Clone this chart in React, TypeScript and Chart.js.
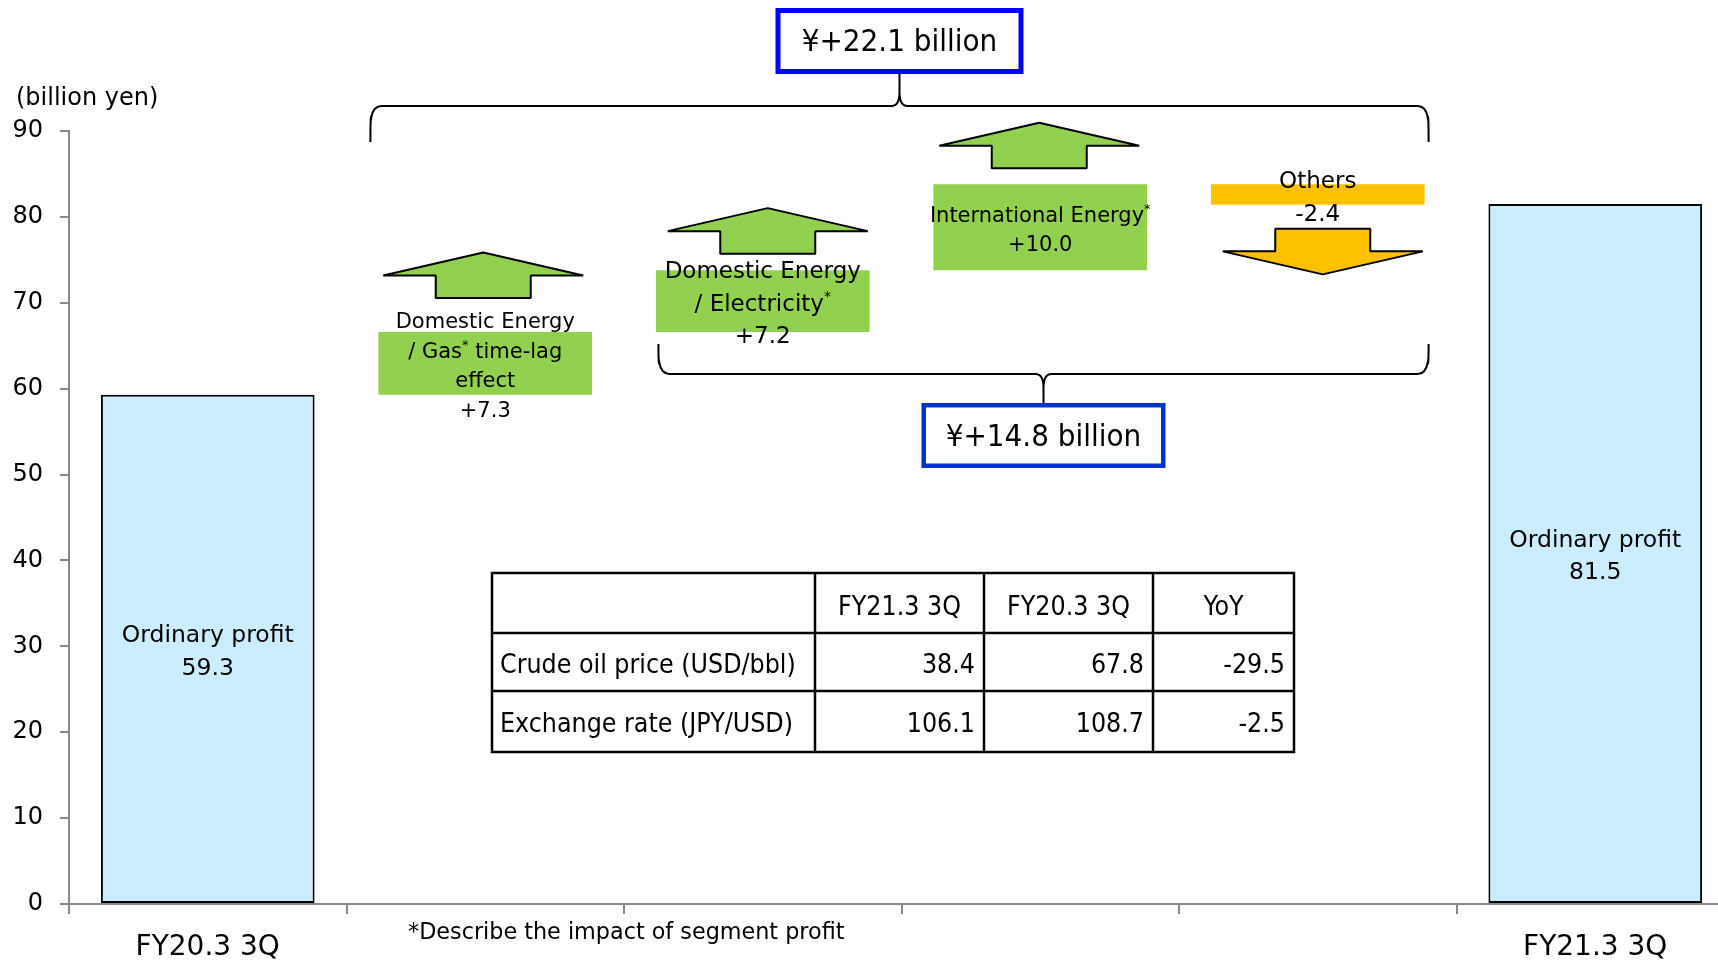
import React, { useEffect, useRef } from 'react';
import { Chart, registerables } from 'chart.js';

Chart.register(...registerables);

// ---------- data ----------
const categories = [
  'FY20.3 3Q',
  'Domestic Energy / Gas time-lag effect',
  'Domestic Energy / Electricity',
  'International Energy',
  'Others',
  'FY21.3 3Q',
];
const tickLabels = ['FY20.3 3Q', '', '', '', '', 'FY21.3 3Q'];
const yMin = 0;
const yMax = 90;
const yStep = 10;
const startProfit = 59.3;
const endProfit = 81.5;
const stepDeltas = [7.3, 7.2, 10.0, -2.4];
const stepLabelLines = [
  ['Domestic Energy', '/ Gas* time-lag', 'effect'],
  ['Domestic Energy', '/ Electricity*'],
  ['International Energy*'],
  ['Others'],
];
const profitLabel = 'Ordinary profit';
const totalChange = 22.1;
const segmentChange = 14.8;
const tableHeader = ['', 'FY21.3 3Q', 'FY20.3 3Q', 'YoY'];
const tableRowLabels = ['Crude oil price (USD/bbl)', 'Exchange rate (JPY/USD)'];
const tableFY21 = [38.4, 106.1];
const tableFY20 = [67.8, 108.7];
const tableYoY = [-29.5, -2.5];
const yAxisTitle = '(billion yen)';
const footnote = '*Describe the impact of segment profit';

// ---------- styles ----------
const SANS = "'DejaVu Sans', Verdana, sans-serif";
const COND = "'DejaVu Sans Condensed', 'DejaVu Sans', sans-serif";
const AXIS_COLOR = '#898989';
const barColors = ['#CCECFF', '#92D050', '#92D050', '#92D050', '#FFC000', '#CCECFF'];
const barBorderWidths = [2, 0, 0, 0, 0, 2];
const labelSizes = [23.5, 21, 23, 21, 23, 23.5];
const labelLineHeights = [32.5, 29.5, 32.5, 29, 33, 32.5];
const arrowGaps = [34, 16.5, 16, 24];
const arrowDx = [-2, 5, -1, 5];

function buildFloating(): [number, number][] {
  const out: [number, number][] = [[0, startProfit]];
  let cum = startProfit;
  stepDeltas.forEach((d) => {
    const next = Math.round((cum + d) * 10) / 10;
    out.push([Math.min(cum, next), Math.max(cum, next)]);
    cum = next;
  });
  out.push([0, endProfit]);
  return out;
}

const fmtSigned = (v: number) => (v > 0 ? '+' : '') + v.toFixed(1);

function drawRichLine(ctx: CanvasRenderingContext2D, text: string, cx: number, cy: number, size: number, family: string) {
  const parts = text.split('*');
  const segs: { t: string; sup: boolean }[] = [];
  parts.forEach((p, i) => {
    if (p) segs.push({ t: p, sup: false });
    if (i < parts.length - 1) segs.push({ t: '*', sup: true });
  });
  const mainFont = `${size}px ${family}`;
  const supFont = `${Math.round(size * 0.6)}px ${family}`;
  let total = 0;
  const widths = segs.map((s) => {
    ctx.font = s.sup ? supFont : mainFont;
    const w = ctx.measureText(s.t).width;
    total += w;
    return w;
  });
  let x = cx - total / 2;
  ctx.textAlign = 'left';
  ctx.textBaseline = 'middle';
  segs.forEach((s, i) => {
    ctx.font = s.sup ? supFont : mainFont;
    ctx.fillText(s.t, x, s.sup ? cy - size * 0.32 : cy);
    x += widths[i];
  });
}

function drawArrow(ctx: CanvasRenderingContext2D, cx: number, yStart: number, up: boolean) {
  const headHalf = 100;
  const shaftHalf = 47.5;
  const shaftLen = 22.5;
  const headLen = 23;
  const d = up ? -1 : 1;
  const yHeadBase = yStart + d * shaftLen;
  const yTip = yHeadBase + d * headLen;
  ctx.beginPath();
  ctx.moveTo(cx, yTip);
  ctx.lineTo(cx + headHalf, yHeadBase);
  ctx.lineTo(cx + shaftHalf, yHeadBase);
  ctx.lineTo(cx + shaftHalf, yStart);
  ctx.lineTo(cx - shaftHalf, yStart);
  ctx.lineTo(cx - shaftHalf, yHeadBase);
  ctx.lineTo(cx - headHalf, yHeadBase);
  ctx.closePath();
  ctx.fill();
  ctx.stroke();
}

function drawBrace(ctx: CanvasRenderingContext2D, x0: number, x1: number, yLine: number, yTip: number, yCusp: number) {
  const r = 11;
  const cr = 8;
  const cx = (x0 + x1) / 2;
  const d = Math.sign(yTip - yLine);
  ctx.beginPath();
  ctx.moveTo(x0, yTip);
  ctx.quadraticCurveTo(x0, yLine + d * r * 0.6, x0 + 1, yLine + d * r);
  ctx.quadraticCurveTo(x0 + 3, yLine, x0 + r, yLine);
  ctx.lineTo(cx - cr, yLine);
  ctx.quadraticCurveTo(cx, yLine, cx, yLine - d * 14);
  ctx.lineTo(cx, yCusp);
  ctx.moveTo(cx, yLine - d * 14);
  ctx.quadraticCurveTo(cx, yLine, cx + cr, yLine);
  ctx.lineTo(x1 - r, yLine);
  ctx.quadraticCurveTo(x1 - 3, yLine, x1 - 1, yLine + d * r);
  ctx.quadraticCurveTo(x1, yLine + d * r * 0.6, x1, yTip);
  ctx.stroke();
}

function drawBox(ctx: CanvasRenderingContext2D, cx: number, top: number, w: number, h: number, text: string, color: string, lw: number) {
  const left = cx - w / 2;
  ctx.fillStyle = '#fff';
  ctx.fillRect(left, top, w, h);
  ctx.strokeStyle = color;
  ctx.lineWidth = lw;
  ctx.strokeRect(left + lw / 2, top + lw / 2, w - lw, h - lw);
  ctx.fillStyle = '#000';
  ctx.font = `31px ${COND}`;
  ctx.textAlign = 'center';
  ctx.textBaseline = 'middle';
  ctx.fillText(text, cx, top + h / 2 + 2);
}

const annotationPlugin = {
  id: 'waterfallAnnotations',
  afterDatasetsDraw(chart: any) {
    const ctx: CanvasRenderingContext2D = chart.ctx;
    const ca = chart.chartArea;
    const bars = chart.getDatasetMeta(0).data.map((b: any) => b.getProps(['x', 'y', 'base', 'width'], true));
    ctx.save();

    // bar labels
    const allLines: string[][] = [
      [profitLabel, startProfit.toFixed(1)],
      ...stepLabelLines.map((l, i) => [...l, fmtSigned(stepDeltas[i])]),
      [profitLabel, endProfit.toFixed(1)],
    ];
    ctx.fillStyle = '#000';
    bars.forEach((b: any, i: number) => {
      const lines = allLines[i];
      const lh = labelLineHeights[i];
      const top = Math.min(b.y, b.base);
      const bottom = Math.max(b.y, b.base);
      const cy = (top + bottom) / 2 + 3.5;
      lines.forEach((ln, k) => {
        drawRichLine(ctx, ln, b.x, cy + (k - (lines.length - 1) / 2) * lh, labelSizes[i], SANS);
      });
    });

    // arrows
    ctx.lineWidth = 2;
    ctx.strokeStyle = '#000';
    ctx.lineJoin = 'bevel';
    stepDeltas.forEach((d, k) => {
      const b = bars[k + 1];
      const top = Math.min(b.y, b.base);
      const bottom = Math.max(b.y, b.base);
      ctx.fillStyle = barColors[k + 1];
      if (d >= 0) drawArrow(ctx, b.x + arrowDx[k], top - arrowGaps[k], true);
      else drawArrow(ctx, b.x + arrowDx[k], bottom + arrowGaps[k], false);
    });
    ctx.lineJoin = 'miter';

    // braces
    ctx.strokeStyle = '#000';
    ctx.lineWidth = 2;
    const gas = bars[1];
    const elec = bars[2];
    const oth = bars[4];
    const x0Top = gas.x - gas.width / 2 - 8;
    const x1 = oth.x + oth.width / 2 + 4;
    const topBoxTop = ca.top - 123;
    const topBoxH = 66;
    drawBrace(ctx, x0Top, x1, ca.top - 25, ca.top + 11, topBoxTop + topBoxH);
    const x0Low = elec.x - elec.width / 2 + 2.5;
    const elecBottom = Math.max(elec.y, elec.base);
    const lowLine = elecBottom + 42;
    const lowBoxTop = lowLine + 29;
    drawBrace(ctx, x0Low, x1, lowLine, elecBottom + 12, lowBoxTop);

    drawBox(ctx, (x0Top + x1) / 2, topBoxTop, 248, topBoxH, `¥${fmtSigned(totalChange)} billion`, '#0000FF', 5);
    drawBox(ctx, (x0Low + x1) / 2, lowBoxTop, 244, 65, `¥${fmtSigned(segmentChange)} billion`, '#0033CC', 4.5);

    // table
    const tLeft = ca.left + 423;
    const tTop = ca.top + 442;
    const colW = [323, 169, 169, 141];
    const rowH = [60, 58, 61];
    const tW = colW.reduce((a, c) => a + c, 0);
    const tH = rowH.reduce((a, c) => a + c, 0);
    ctx.fillStyle = '#fff';
    ctx.fillRect(tLeft, tTop, tW, tH);
    ctx.strokeStyle = '#000';
    ctx.lineWidth = 2.5;
    ctx.strokeRect(tLeft, tTop, tW, tH);
    let cxAcc = tLeft;
    colW.slice(0, -1).forEach((w) => {
      cxAcc += w;
      ctx.beginPath();
      ctx.moveTo(cxAcc, tTop);
      ctx.lineTo(cxAcc, tTop + tH);
      ctx.stroke();
    });
    let ryAcc = tTop;
    rowH.slice(0, -1).forEach((h) => {
      ryAcc += h;
      ctx.beginPath();
      ctx.moveTo(tLeft, ryAcc);
      ctx.lineTo(tLeft + tW, ryAcc);
      ctx.stroke();
    });
    const colX = [tLeft];
    colW.forEach((w, i) => colX.push(colX[i] + w));
    const rowY = [tTop];
    rowH.forEach((h, i) => rowY.push(rowY[i] + h));
    ctx.fillStyle = '#000';
    ctx.font = `26.5px ${COND}`;
    ctx.textBaseline = 'middle';
    ctx.textAlign = 'center';
    tableHeader.forEach((h, c) => {
      if (!h) return;
      ctx.fillText(h, (colX[c] + colX[c + 1]) / 2, (rowY[0] + rowY[1]) / 2 + 5);
    });
    tableRowLabels.forEach((lab, r) => {
      const cy = (rowY[r + 1] + rowY[r + 2]) / 2 + 4;
      ctx.textAlign = 'left';
      ctx.fillText(lab, colX[0] + 8, cy);
      ctx.textAlign = 'right';
      ctx.fillText(tableFY21[r].toFixed(1), colX[2] - 9, cy);
      ctx.fillText(tableFY20[r].toFixed(1), colX[3] - 9, cy);
      ctx.fillText(tableYoY[r].toFixed(1), colX[4] - 9, cy);
    });

    // y axis title
    ctx.font = `24px ${SANS}`;
    ctx.textAlign = 'left';
    ctx.textBaseline = 'middle';
    ctx.fillText(yAxisTitle, 16, ca.top - 32);

    // footnote
    ctx.font = `22.3px ${SANS}`;
    ctx.fillText(footnote, ca.left + 339, ca.bottom + 29);

    ctx.restore();
  },
};

export default function App() {
  const canvasRef = useRef<HTMLCanvasElement | null>(null);

  useEffect(() => {
    const canvas = canvasRef.current;
    if (!canvas) return;
    const floating = buildFloating();
    const chart = new Chart(canvas, {
      type: 'bar',
      data: {
        labels: tickLabels,
        datasets: [
          {
            label: 'Ordinary profit bridge',
            data: floating as any,
            backgroundColor: barColors,
            borderColor: '#000',
            borderWidth: barBorderWidths,
            borderSkipped: false,
            barPercentage: 0.77,
            categoryPercentage: 1,
          },
        ],
      },
      options: {
        responsive: false,
        animation: false,
        devicePixelRatio: 1,
        layout: { padding: { top: 131, left: 0, right: 0, bottom: 0 } },
        plugins: {
          legend: { display: false },
          tooltip: { enabled: false },
          title: { display: false },
        },
        scales: {
          x: {
            ticks: {
              font: { family: SANS, size: 28 },
              color: '#000',
              padding: 17,
              autoSkip: false,
              maxRotation: 0,
            },
            grid: {
              offset: true,
              drawOnChartArea: false,
              drawTicks: true,
              tickLength: 10,
              color: AXIS_COLOR,
              lineWidth: 2,
            },
            border: { display: true, color: AXIS_COLOR, width: 2 },
            afterFit: (s: any) => {
              s.height = 59;
            },
          },
          y: {
            min: yMin,
            max: yMax,
            ticks: {
              stepSize: yStep,
              font: { family: SANS, size: 24 },
              color: '#000',
              padding: 17,
            },
            grid: {
              drawOnChartArea: false,
              drawTicks: true,
              tickLength: 9,
              color: AXIS_COLOR,
              lineWidth: 2,
            },
            border: { display: true, color: AXIS_COLOR, width: 2 },
            afterFit: (s: any) => {
              s.width = 69;
            },
          },
        },
      },
      plugins: [annotationPlugin],
    });
    (chart as any).$categories = categories;
    return () => chart.destroy();
  }, []);

  return (
    <div
      style={{
        position: 'fixed',
        left: 0,
        top: 0,
        width: 1718,
        height: 963,
        overflow: 'hidden',
        background: '#fff',
      }}
    >
      <canvas ref={canvasRef} width={1734} height={963} style={{ display: 'block' }} />
    </div>
  );
}
